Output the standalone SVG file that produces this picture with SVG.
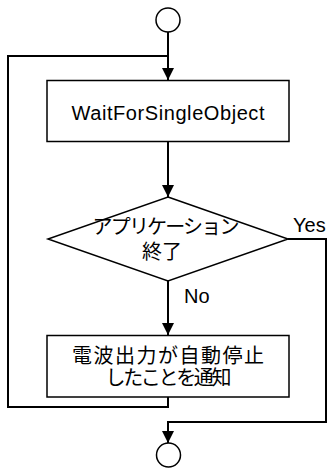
<svg xmlns="http://www.w3.org/2000/svg" width="331" height="470" viewBox="0 0 331 470">
<defs>
<marker id="arr" markerWidth="12" markerHeight="12" viewBox="0 0 12 12" refX="12" refY="6" orient="auto" markerUnits="userSpaceOnUse">
<path d="M0,0 L12,6 L0,12 Z" fill="#000"/>
</marker>
<style>
.shape{fill:#fff;stroke:#000;stroke-width:1.5}
.line{fill:none;stroke:#000;stroke-width:2}
.lat{font-family:"Liberation Sans",Arial,sans-serif;font-size:20px;fill:#000}
.jp{font-family:"Noto Sans CJK JP","Noto Sans",sans-serif;font-size:20px;fill:#000}
</style>
</defs>
<rect width="331" height="470" fill="#fff"/>
<g id="connectors">
<path class="line" d="M168,32 V80" marker-end="url(#arr)"/>
<path class="line" d="M168,141 V197" marker-end="url(#arr)"/>
<path class="line" d="M168,281 V335" marker-end="url(#arr)"/>
<path class="line" d="M168,397 V407 H8 V56 H168"/>
<path class="line" d="M288,239 H326 V422 H168 V443" marker-end="url(#arr)"/>
<text class="lat" x="293" y="232">Yes</text>
<text class="lat" x="184" y="303">No</text>
</g>
<g id="start">
<circle class="shape" cx="168" cy="20" r="12"/>
</g>
<g id="wait">
<rect class="shape" x="47" y="80.5" width="242" height="61"/>
<text class="lat" x="168" y="120" text-anchor="middle" textLength="193" lengthAdjust="spacing">WaitForSingleObject</text>
</g>
<g id="decision">
<polygon class="shape" points="168,197 288,239 168,281 48,239"/>
<text class="jp" x="166" y="234" text-anchor="middle" textLength="147" lengthAdjust="spacing">アプリケーション</text>
<text class="jp" x="162" y="259" text-anchor="middle">終了</text>
</g>
<g id="notify">
<rect class="shape" x="47" y="335.5" width="242" height="61.5"/>
<text class="jp" x="168" y="363" text-anchor="middle" textLength="192" lengthAdjust="spacing">電波出力が自動停止</text>
<text class="jp" x="168.5" y="385" text-anchor="middle" textLength="126" lengthAdjust="spacing">したことを通知</text>
</g>
<g id="end">
<circle class="shape" cx="168.5" cy="455" r="12"/>
</g>
</svg>
